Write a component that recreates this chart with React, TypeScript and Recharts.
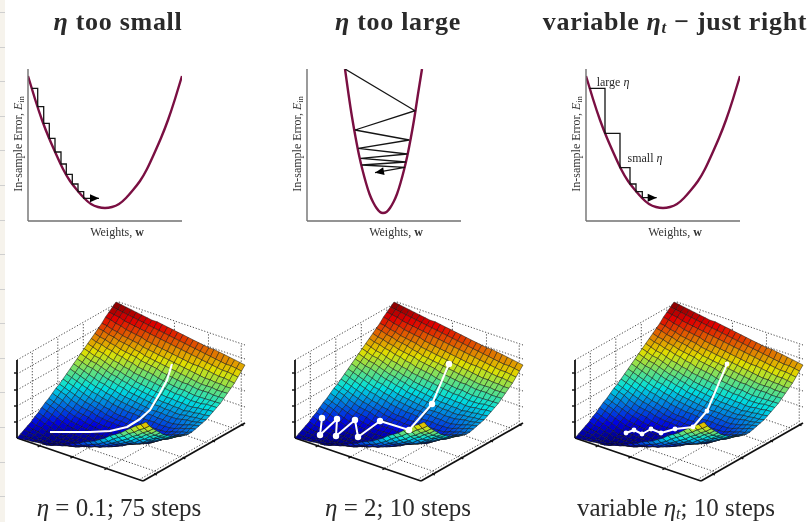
import React from 'react';
import { LineChart, Line, XAxis, YAxis, Label } from 'recharts';

// ---------- top row: error curves ----------
const gentleWeights = [0, 7, 14, 21, 28, 35, 42, 49, 56, 63, 70, 77, 84, 91, 98, 105, 112, 119, 126, 133, 140, 147, 154];
const gentleError = [145, 122, 101, 83, 67, 52, 40, 31, 23, 17, 14, 13, 14, 17, 23, 31, 40, 52, 67, 83, 101, 122, 145];
const narrowWeights = [38, 41.5, 45, 48.5, 52, 55.5, 59, 62.5, 66, 69.5, 73, 76, 79.5, 83, 86.5, 90, 93.5, 97, 100.5, 104, 107.5, 111, 115];
const narrowError = [152, 127, 104, 84, 66, 51, 38, 27, 19, 13, 9, 8, 9, 13, 19, 27, 38, 51, 66, 84, 104, 127, 152];

const stepsSmallX = [3.7, 9.7, 9.7, 15.7, 15.7, 21.3, 21.3, 27, 27, 33, 33, 38.3, 38.3, 44.3, 44.3, 50, 50, 55.7, 55.7, 71];
const stepsSmallY = [132.7, 132.7, 114.3, 114.3, 97.7, 97.7, 82.7, 82.7, 69, 69, 57, 57, 46.7, 46.7, 37, 37, 29.3, 29.3, 22.7, 22.7];
const stepsLargeX = [38, 108, 48, 102.3, 51.3, 100.3, 53.7, 99, 54.7, 98, 68];
const stepsLargeY = [152, 110.3, 91, 81, 72.7, 67, 62.7, 59, 56, 53.7, 48.3];
const stepsVarX = [3.3, 19, 19, 34, 34, 44, 44, 50, 50, 56.3, 56.3, 70.7];
const stepsVarY = [132.7, 132.7, 87.7, 87.7, 53.3, 53.3, 37, 37, 29.3, 29.3, 23.3, 23.3];

// ---------- bottom row: error surface heights, far edge first ----------
const surfaceHeights = [
  [81,80,79,78,77,76,75,74,74,73,72,71,70,69,68,67,66,65,64,64,63,62,61,60,59,58],
  [78,77,76,75,74,73,72,71,70,69,68,67,66,65,64,63,62,61,60,59,58,57,56,56,55,54],
  [75,74,73,71,70,69,68,67,66,65,64,63,62,61,60,59,58,57,56,55,54,53,52,52,51,50],
  [72,71,69,68,66,65,64,63,61,60,59,58,57,56,55,54,53,52,52,51,50,49,48,48,47,46],
  [68,67,65,64,62,61,60,59,57,56,55,54,53,52,51,50,49,48,47,46,45,45,44,44,43,43],
  [65,64,62,61,59,58,57,55,54,52,51,50,49,48,47,46,45,44,43,42,41,41,41,40,40,40],
  [62,60,59,57,56,54,53,52,51,49,48,47,46,44,43,42,41,40,40,39,38,38,38,37,37,37],
  [59,57,56,54,53,51,50,48,47,45,44,43,42,40,39,38,37,36,36,35,34,34,34,34,34,34],
  [56,54,52,51,49,47,46,44,43,41,40,39,38,37,36,35,34,33,33,32,31,31,31,32,32,32],
  [53,51,49,48,46,44,42,41,39,38,36,35,34,33,32,31,30,30,29,29,28,28,29,29,30,30],
  [50,48,46,45,43,41,39,38,36,35,33,32,31,30,29,28,27,27,26,26,25,26,26,27,27,28],
  [47,45,43,42,40,38,36,35,33,32,30,29,28,27,26,25,25,24,24,23,23,24,24,25,25,26],
  [44,42,40,38,36,34,33,31,30,28,27,26,25,24,23,22,22,22,21,21,21,22,23,23,24,25],
  [41,39,37,35,33,31,30,28,27,25,24,23,22,21,21,20,20,19,19,18,18,19,20,22,23,24],
  [38,36,34,32,30,28,27,25,24,22,21,20,19,19,18,17,17,17,16,16,16,17,19,20,22,23],
  [35,33,31,29,27,25,23,22,20,19,17,16,16,15,15,14,14,14,14,14,14,16,17,19,20,22],
  [32,30,28,26,24,22,21,19,18,16,15,14,14,13,13,12,12,12,13,13,13,15,17,18,20,22],
  [30,28,26,23,21,19,18,17,15,14,13,13,12,12,11,11,11,11,12,12,12,14,16,19,21,23],
  [27,25,23,20,18,16,15,14,12,11,10,10,10,9,9,9,10,10,11,11,12,14,17,19,22,24],
  [24,22,20,18,16,14,13,11,10,9,8,8,8,7,7,7,8,9,10,11,12,15,18,20,23,26],
  [22,20,18,15,13,11,10,9,8,7,6,6,6,6,6,6,7,9,10,12,13,16,19,22,25,28],
  [19,17,15,13,11,9,8,7,6,5,4,4,5,5,6,6,8,10,12,13,15,18,21,24,27,30],
  [16,14,12,10,8,6,5,5,4,4,3,4,5,5,6,7,9,11,13,15,17,20,23,27,30,33],
  [14,12,10,8,6,4,4,3,3,2,2,3,4,6,7,8,10,12,15,17,19,22,26,29,33,36],
  [11,9,8,6,5,3,3,3,3,3,3,4,6,7,9,10,12,15,17,20,22,26,29,33,36,40],
  [9,7,6,4,3,1,2,2,3,3,4,6,7,9,10,12,15,18,20,23,26,30,33,37,40,44],
  [7,6,5,3,2,1,2,3,4,5,6,8,10,11,13,15,18,21,24,27,30,34,37,41,44,48],
  [5,4,4,3,3,2,3,5,6,8,9,11,13,15,17,19,22,25,29,32,35,39,42,46,49,53],
  [3,3,4,4,5,5,7,8,10,11,13,15,17,20,22,24,27,30,34,37,40,44,48,52,55,59],
];
const HEIGHT_MAX = 82;

// ---------- descent paths on the surface ----------
const path01X = [172, 167, 160, 150, 140, 127, 110, 90, 67, 50];
const path01Y = [74, 90, 103, 120, 129, 137, 141, 142, 142, 142];
const path2X = [171, 154, 131, 102, 80, 77, 58, 59, 42, 44];
const path2Y = [74, 114, 140, 131, 147, 130, 146, 129, 145, 128];
const pathVarX = [169, 149, 135, 117, 103, 93, 84, 76, 68];
const pathVarY = [74, 121, 137, 139, 143, 139, 144, 140, 143];

// ---------- box grid positions ----------
const floorA = [0.18, 0.44, 0.71, 0.97];
const floorB = [0.15, 0.4, 0.65, 0.9];
const wallLevels = [16, 32, 48, 64, 78];
const tickLevels = [16, 32, 48, 65];
const tickA = [0.18, 0.44, 0.71];
const tickB = [0.12, 0.4, 0.69, 0.97];

const stripLines = [12, 47, 81, 116, 150, 185, 220, 254, 289, 323, 358, 392, 427, 462, 496];

// ---------- helpers ----------
const SERIF = '"Liberation Serif", serif';
const INK = '#333';
const zip = (xs: number[], ys: number[]) => xs.map((x, i) => ({ x, y: ys[i] }));

const clamp = (v: number) => Math.max(0, Math.min(1, v));
const MUTE = 0.88;
const jet = (t: number) => {
  const r = clamp(1.5 - Math.abs(4 * t - 3));
  const g = clamp(1.5 - Math.abs(4 * t - 2));
  const b = clamp(1.5 - Math.abs(4 * t - 1));
  return `rgb(${Math.round(r * 255 * MUTE)},${Math.round(g * 255 * MUTE)},${Math.round(b * 255 * MUTE)})`;
};

const boxPoint = (a: number, b: number, h: number) => ({
  x: 17 + 126 * a + 102 * b,
  y: 148 + 43 * a - 58 * b - h,
});

const NR = surfaceHeights.length - 1;
const NC = surfaceHeights[0].length - 1;
const surfaceData = surfaceHeights.flatMap((row, r) =>
  row.map((h, c) => {
    const a = c / NC;
    const b = 1 - r / NR;
    return { x: 17 + 129 * a + 99 * b, y: 151 + 40 * a - 58 * b - h, h, r, c };
  }),
);

const SurfaceCell = (p: any) => {
  const { index, points, payload } = p;
  if (payload.r === NR || payload.c === NC) return <g key={index} />;
  const w = NC + 1;
  const q = [points[index], points[index + 1], points[index + w + 1], points[index + w]];
  const hs = [index, index + 1, index + w + 1, index + w].map((k) => surfaceData[k].h);
  const mean = (hs[0] + hs[1] + hs[2] + hs[3]) / 4;
  return (
    <polygon
      key={index}
      points={q.map((o: any) => `${o.x},${o.y}`).join(' ')}
      fill={jet(mean / HEIGHT_MAX)}
      stroke="#101010"
      strokeOpacity={0.55}
      strokeWidth={0.9}
    />
  );
};

const pathDot = (radius: number, width: number) => (p: any) => {
  const { index, points, cx, cy } = p;
  return (
    <g key={index}>
      {index === 0 ? (
        <polyline
          points={points.map((o: any) => `${o.x},${o.y}`).join(' ')}
          fill="none"
          stroke="#fff"
          strokeWidth={width}
          strokeLinejoin="round"
        />
      ) : null}
      {radius > 0 ? <circle cx={cx} cy={cy} r={radius} fill="#fff" /> : null}
    </g>
  );
};

const Arrow = (p: any) => {
  const { index, points } = p;
  if (index !== points.length - 1) return <g key={index} />;
  const tip = points[index];
  const prev = points[index - 1];
  const angle = (Math.atan2(tip.y - prev.y, tip.x - prev.x) * 180) / Math.PI;
  return (
    <polygon
      key={index}
      points="0,0 -9,-4 -9,4"
      fill="#000"
      transform={`translate(${tip.x},${tip.y}) rotate(${angle})`}
    />
  );
};

const WeightsLabel = () => (
  <text x={117} y={176} textAnchor="middle" fontFamily={SERIF} fontSize={12} fill={INK}>
    Weights, <tspan fontWeight="bold">w</tspan>
  </text>
);

const ErrorLabel = () => (
  <text
    transform="translate(22,84) rotate(-90)"
    textAnchor="middle"
    fontFamily={SERIF}
    fontSize={12}
    fill={INK}
  >
    In-sample Error, <tspan fontStyle="italic">E</tspan>
    <tspan fontSize={8} dy={2}>in</tspan>
  </text>
);

const CurvePanel = ({ left, weights, error, stepX, stepY }: any) => (
  <div style={{ position: 'absolute', left, top: 60 }}>
    <LineChart width={192} height={190} margin={{ top: 9, left: 27, right: 10, bottom: 28 }}>
      <XAxis
        type="number"
        dataKey="x"
        domain={[0, 154]}
        allowDataOverflow
        height={1}
        tick={false}
        tickLine={false}
        axisLine={{ stroke: '#707070', strokeWidth: 1.4 }}
      >
        <Label content={<WeightsLabel />} />
      </XAxis>
      <YAxis
        type="number"
        domain={[0, 152]}
        allowDataOverflow
        width={1}
        tick={false}
        tickLine={false}
        axisLine={{ stroke: '#707070', strokeWidth: 1.4 }}
      >
        <Label content={<ErrorLabel />} />
      </YAxis>
      <Line
        data={zip(weights, error)}
        dataKey="y"
        type="natural"
        stroke="#7a0f42"
        strokeWidth={2.4}
        dot={false}
        activeDot={false}
        isAnimationActive={false}
      />
      <Line
        data={zip(stepX, stepY)}
        dataKey="y"
        type="linear"
        stroke="#151515"
        strokeWidth={1.3}
        dot={Arrow}
        activeDot={false}
        isAnimationActive={false}
      />
    </LineChart>
  </div>
);

const segLine = (key: string, data: any[], stroke: string, width: number, dash?: string) => (
  <Line
    key={key}
    data={data}
    dataKey="y"
    type="linear"
    stroke={stroke}
    strokeWidth={width}
    strokeDasharray={dash}
    dot={false}
    activeDot={false}
    isAnimationActive={false}
  />
);

const DOT = '1.2 1.8';
const gridSegments = () => {
  const out: any[] = [];
  floorA.forEach((a, i) => {
    out.push(segLine(`fa${i}`, [boxPoint(a, 0, 0), boxPoint(a, 1, 0)], '#333', 0.9, DOT));
    out.push(segLine(`wa${i}`, [boxPoint(a, 1, 0), boxPoint(a, 1, 78)], '#333', 0.9, DOT));
  });
  floorB.forEach((b, i) => {
    out.push(segLine(`fb${i}`, [boxPoint(0, b, 0), boxPoint(1, b, 0)], '#333', 0.9, DOT));
    out.push(segLine(`wb${i}`, [boxPoint(0, b, 0), boxPoint(0, b, 78)], '#333', 0.9, DOT));
  });
  wallLevels.forEach((h, i) => {
    out.push(segLine(`wl${i}`, [boxPoint(0, 0, h), boxPoint(0, 1, h)], '#333', 0.9, DOT));
    out.push(segLine(`wr${i}`, [boxPoint(0, 1, h), boxPoint(1, 1, h)], '#333', 0.9, DOT));
  });
  return out;
};

const axisSegments = () => {
  const out: any[] = [];
  out.push(segLine('ax1', [boxPoint(0, 0, 0), boxPoint(1, 0, 0)], '#111', 1.8));
  out.push(segLine('ax2', [boxPoint(1, 0, 0), boxPoint(1, 1, 0)], '#111', 1.8));
  out.push(segLine('ax3', [boxPoint(0, 0, 0), boxPoint(0, 0, 78)], '#111', 1.8));
  tickLevels.forEach((h, i) => {
    const p = boxPoint(0, 0, h);
    out.push(segLine(`th${i}`, [{ x: p.x - 3, y: p.y }, { x: p.x, y: p.y }], '#111', 1.4));
  });
  tickA.forEach((a, i) => {
    const p = boxPoint(a, 0, 0);
    out.push(segLine(`ta${i}`, [{ x: p.x - 2, y: p.y + 1.2 }, { x: p.x + 1, y: p.y - 0.6 }], '#111', 1.4));
  });
  tickB.forEach((b, i) => {
    const p = boxPoint(1, b, 0);
    out.push(segLine(`tb${i}`, [{ x: p.x - 1, y: p.y - 0.6 }, { x: p.x + 1.5, y: p.y + 1 }], '#111', 1.4));
  });
  return out;
};

const SurfacePanel = ({ left, pathX, pathY, marker, width }: any) => (
  <div style={{ position: 'absolute', left, top: 290 }}>
    <LineChart width={253} height={205} margin={{ top: 0, left: 0, right: 0, bottom: 0 }}>
      <XAxis type="number" dataKey="x" domain={[0, 253]} allowDataOverflow hide />
      <YAxis type="number" domain={[0, 205]} allowDataOverflow reversed hide />
      {gridSegments()}
      {axisSegments()}
      <Line
        data={surfaceData}
        dataKey="y"
        type="linear"
        stroke="none"
        dot={SurfaceCell}
        activeDot={false}
        isAnimationActive={false}
      />
      <Line
        data={zip(pathX, pathY)}
        dataKey="y"
        type="linear"
        stroke="none"
        dot={pathDot(marker, width)}
        activeDot={false}
        isAnimationActive={false}
      />
    </LineChart>
  </div>
);

const Eta = ({ sub }: { sub?: boolean }) => (
  <span style={{ fontStyle: 'italic' }}>
    η
    {sub ? (
      <span style={{ fontSize: '0.65em', position: 'relative', top: '0.2em' }}>t</span>
    ) : null}
  </span>
);

const textStyle = (x: number, y: number, size: number, bold = false): React.CSSProperties => ({
  position: 'absolute',
  left: x,
  top: y,
  transform: 'translateX(-50%)',
  whiteSpace: 'nowrap',
  fontFamily: SERIF,
  fontSize: size,
  lineHeight: 1,
  fontWeight: bold ? 'bold' : 'normal',
  letterSpacing: bold ? 0.7 : 0,
  color: '#2a2a2a',
});

export default function App() {
  return (
    <div
      style={{
        position: 'absolute',
        left: 0,
        top: 0,
        width: 811,
        height: 522,
        background: '#fff',
        overflow: 'hidden',
        filter: 'blur(0.5px)',
      }}
    >
      <div style={{ position: 'absolute', left: 0, top: 0, width: 5, height: 522, background: '#f6f3ec' }} />
      {stripLines.map((y) => (
        <div key={y} style={{ position: 'absolute', left: 0, top: y, width: 5, height: 1, background: '#cfcfcf' }} />
      ))}

      <div style={textStyle(118, 9, 26, true)}><Eta /> too small</div>
      <div style={textStyle(398, 9, 26, true)}><Eta /> too large</div>
      <div style={textStyle(675, 9, 26, true)}>variable <Eta sub /> − just right</div>

      <CurvePanel left={0} weights={gentleWeights} error={gentleError} stepX={stepsSmallX} stepY={stepsSmallY} />
      <CurvePanel left={279} weights={narrowWeights} error={narrowError} stepX={stepsLargeX} stepY={stepsLargeY} />
      <CurvePanel left={558} weights={gentleWeights} error={gentleError} stepX={stepsVarX} stepY={stepsVarY} />

      <div style={textStyle(613, 76, 12)}>large <Eta /></div>
      <div style={textStyle(645, 152, 12)}>small <Eta /></div>

      <SurfacePanel left={0} pathX={path01X} pathY={path01Y} marker={0} width={2.2} />
      <SurfacePanel left={278} pathX={path2X} pathY={path2Y} marker={3.2} width={2} />
      <SurfacePanel left={558} pathX={pathVarX} pathY={pathVarY} marker={2.4} width={2} />

      <div style={textStyle(119, 495, 25)}><Eta /> = 0.1; 75 steps</div>
      <div style={textStyle(398, 495, 25)}><Eta /> = 2; 10 steps</div>
      <div style={textStyle(676, 495, 25)}>variable <Eta sub />; 10 steps</div>
    </div>
  );
}
